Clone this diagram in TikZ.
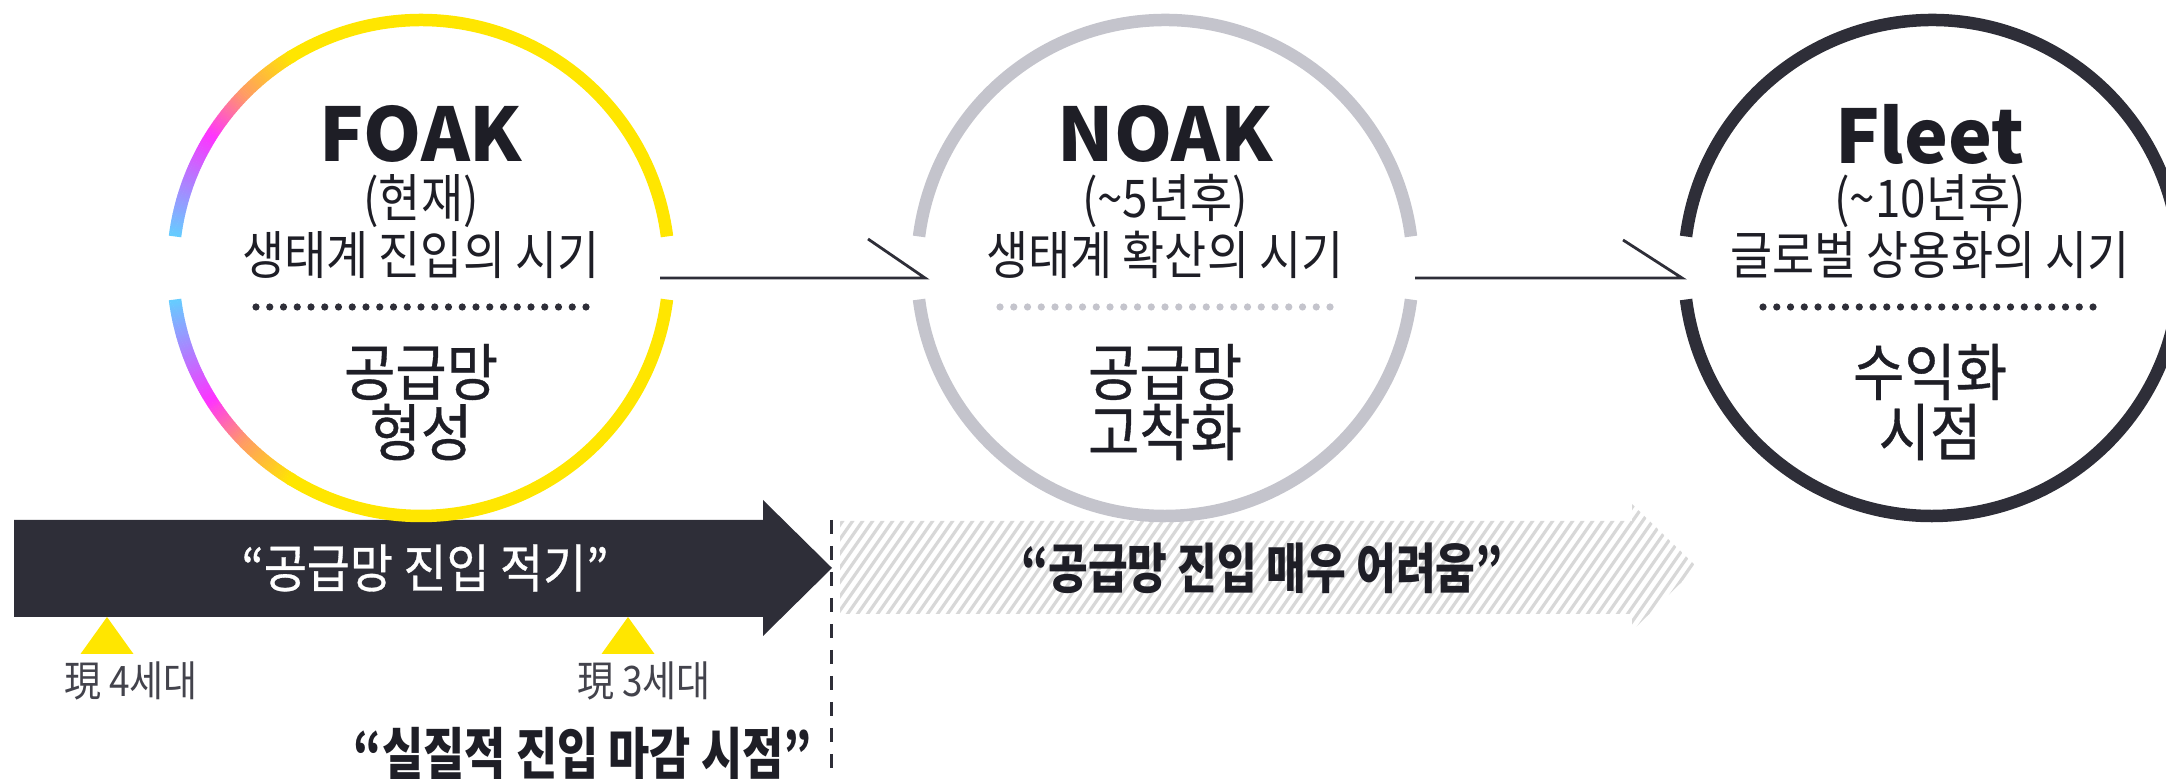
\documentclass[tikz,border=0pt]{standalone}
\usepackage{fontspec}
\newfontfamily\kr[FakeStretch=0.88]{Noto Sans CJK KR}
\newfontfamily\krm[FakeStretch=0.9,FakeBold=0.6]{Noto Sans CJK KR}
\newfontfamily\krc[FakeStretch=0.8]{Noto Sans CJK KR}
\newfontfamily\krn{Noto Sans CJK KR}
\definecolor{ink}{HTML}{1E1E26}
\definecolor{dark}{HTML}{2E2E38}
\definecolor{yel}{HTML}{FFE600}
\definecolor{ringgray}{HTML}{C4C4CC}
\definecolor{hatchgray}{HTML}{D8D8D8}
\definecolor{g0}{HTML}{66CCFF}
\definecolor{g1}{HTML}{B07EFF}
\definecolor{g2}{HTML}{FF33FF}
\definecolor{g3}{HTML}{FF9A66}
\definecolor{g4}{HTML}{FFE600}
\newcommand\ringarcs[2]{%
  \draw[#2] ([shift={(7.3:248)}]#1) arc[start angle=7.3,end angle=172.7,radius=248];
  \draw[#2] ([shift={(187.3:248)}]#1) arc[start angle=187.3,end angle=352.7,radius=248];}
\newcommand\dotrow[3]{%
  \foreach \i in {0,...,24}{\fill[#3] (#1-165+\i*13.75,#2) circle (3.6);}}
\begin{document}
\begin{tikzpicture}[x=0.5pt,y=0.5pt,
  ring/.style={line width=6.25pt,line cap=butt},
  ttl/.style={font=\krn\bfseries\fontsize{37pt}{40pt}\selectfont,text=ink,inner sep=0},
  sub/.style={font=\kr\fontsize{26pt}{30pt}\selectfont,text=ink,inner sep=0},
  big/.style={font=\krm\fontsize{31pt}{34pt}\selectfont,text=ink,inner sep=0},
  conn/.style={draw=dark,line width=1.4pt,line join=miter},
  gen/.style={font=\kr\fontsize{21pt}{24pt}\selectfont,text=dark!90,inner sep=0},
  genmark/.style={fill=yel},
  hatch/.style={draw=hatchgray,line width=1.6pt}]
\useasboundingbox (0,0) rectangle (2166,779);
\clip (0,0) rectangle (2166,779);
% centres
\coordinate (foak) at (421,511);
\coordinate (noak) at (1165,511);
\coordinate (fleet) at (1932,511);
% dark arrow
\fill[dark] (14,259) -- (763,259) -- (763,279) -- (832,211) -- (763,143) -- (763,162) -- (14,162) -- cycle;
\node[font=\krm\fontsize{26pt}{29pt}\selectfont,text=white,inner sep=0] (t1) at (425,211) {“공급망 진입 적기”};
% hatched arrow
\begin{scope}
\clip (840,258) -- (1632,258) -- (1632,275) -- (1697,212) -- (1632,148) -- (1632,165) -- (840,165) -- cycle;
\foreach \x in {700,710,...,1700}{\draw[hatch] (\x,140) -- ++(98,140);}
\end{scope}
\node[font=\krc\bfseries\fontsize{27pt}{30pt}\selectfont,text=ink,inner sep=0] (t2) at (1262,211) {“공급망 진입 매우 어려움”};
% dashed line
\coordinate (dtop) at (831,259);
\coordinate (dbot) at (831,0);
\draw[dark,line width=1.5pt,dash pattern=on 7pt off 6pt] (dtop) -- (dbot);
\node[font=\krc\bfseries\fontsize{28pt}{31pt}\selectfont,text=ink,inner sep=0] (t3) at (583,25) {“실질적 진입 마감 시점”};
% markers
\coordinate (m1) at (107,162);
\coordinate (m2) at (628,162);
\fill[genmark] (m1) -- ++(26.5,-37) -- ++(-53,0) -- cycle;
\fill[genmark] (m2) -- ++(26.5,-37) -- ++(-53,0) -- cycle;
\node[gen] (g4l) at (131,98) {現 4세대};
\node[gen] (g3l) at (644,98) {現 3세대};
% FOAK ring with gradient
\foreach \d in {7.3,7.8,...,58.3}{
  \pgfmathtruncatemacro\seg{\d<20?0:(\d<32?1:(\d<44?2:3))}
  \pgfmathsetmacro\lo{{7.3,20,32,44}[\seg]}
  \pgfmathsetmacro\hi{{20,32,44,58.3}[\seg]}
  \pgfmathtruncatemacro\pct{100*(\d-\lo)/(\hi-\lo)}
  \pgfmathtruncatemacro\nx{\seg+1}
  \colorlet{cur}{g\nx!\pct!g\seg}
  \draw[ring,cur] ([shift={(180-\d:248)}]foak) arc[start angle=180-\d,end angle=180-\d-0.6,radius=248];
  \draw[ring,cur] ([shift={(180+\d:248)}]foak) arc[start angle=180+\d,end angle=180+\d+0.6,radius=248];
}
\draw[ring,yel] ([shift={(7.3:248)}]foak) arc[start angle=7.3,end angle=122,radius=248];
\draw[ring,yel] ([shift={(238:248)}]foak) arc[start angle=238,end angle=352.7,radius=248];
% other rings
\ringarcs{noak}{ring,ringgray}
\ringarcs{fleet}{ring,dark}
% texts FOAK
\node[ttl] (f1) at (421,645) {FOAK};
\node[sub] (f2) at (421,578) {(현재)};
\node[sub] (f3) at (421,524) {생태계 진입의 시기};
\dotrow{421}{472}{dark}
\node[big] (f4) at (421,407) {공급망};
\node[big] (f5) at (421,347) {형성};
% texts NOAK
\node[ttl] (n1) at (1165,645) {NOAK};
\node[sub] (n2) at (1165,578) {(\textasciitilde 5년후)};
\node[sub] (n3) at (1165,524) {생태계 확산의 시기};
\dotrow{1165}{472}{ringgray}
\node[big] (n4) at (1165,407) {공급망};
\node[big] (n5) at (1165,347) {고착화};
% texts Fleet
\node[ttl] (l1) at (1930,645) {Fleet};
\node[sub] (l2) at (1930,578) {(\textasciitilde 10년후)};
\node[sub] (l3) at (1930,524) {글로벌 상용화의 시기};
\dotrow{1928}{472}{dark}
\node[big] (l4) at (1930,407) {수익화};
\node[big] (l5) at (1930,347) {시점};
% connectors
\coordinate (a1) at (660,501);
\coordinate (b1) at (925,501);
\coordinate (a2) at (1415,501);
\coordinate (b2) at (1682,501);
\draw[conn] (a1) -- (b1) -- ++(-57,39);
\draw[conn] (a2) -- (b2) -- ++(-59,38);
\end{tikzpicture}
\end{document}
